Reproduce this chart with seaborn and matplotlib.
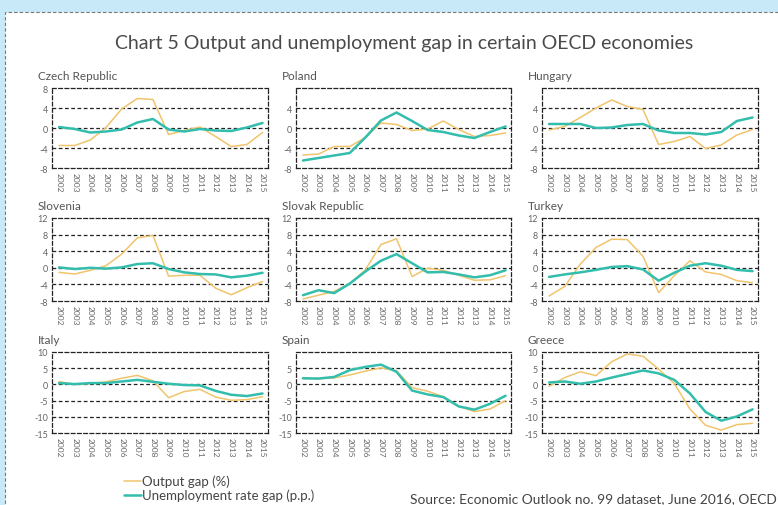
import matplotlib
matplotlib.use("Agg")
import matplotlib.pyplot as plt
import seaborn as sns
import pandas as pd
from matplotlib.patches import Rectangle

years = list(range(2002, 2016))
countries = ["Czech Republic", "Poland", "Hungary", "Slovenia", "Slovak Republic",
             "Turkey", "Italy", "Spain", "Greece"]

czech_output = [-3.5, -3.5, -2.4, 0.1, 3.8, 5.9, 5.7, -1.3, -0.5, 0.2, -1.7, -3.7, -3.3, -0.9]
czech_unemp = [0.2, -0.2, -0.9, -0.7, -0.3, 1.1, 1.8, -0.3, -0.7, -0.2, -0.5, -0.6, 0.1, 1.0]
poland_output = [-5.4, -5.2, -3.7, -3.7, -1.9, 1.0, 0.7, -0.5, -0.2, 1.4, -0.3, -1.7, -1.5, -1.0]
poland_unemp = [-6.5, -6.0, -5.5, -5.0, -1.9, 1.5, 3.1, 1.4, -0.4, -0.8, -1.5, -2.0, -0.8, 0.3]
hungary_output = [-0.4, 0.3, 2.1, 4.0, 5.6, 4.3, 3.7, -3.3, -2.7, -1.7, -4.1, -3.4, -1.4, -0.3]
hungary_unemp = [0.8, 0.8, 0.8, 0.0, 0.1, 0.6, 0.8, -0.5, -1.0, -1.0, -1.3, -0.8, 1.4, 2.1]
slovenia_output = [-1.1, -1.5, -0.6, 0.5, 3.3, 7.2, 7.8, -2.0, -1.8, -1.8, -4.9, -6.5, -4.8, -3.3]
slovenia_unemp = [0.1, -0.3, 0.0, -0.2, 0.1, 0.9, 1.1, -0.3, -1.1, -1.5, -1.6, -2.3, -1.9, -1.2]
slovak_output = [-7.5, -6.6, -5.7, -3.8, -0.5, 5.6, 7.0, -2.1, -0.1, -0.6, -1.8, -3.0, -2.9, -1.9]
slovak_unemp = [-6.6, -5.4, -6.1, -3.8, -0.9, 1.7, 3.3, 1.1, -1.1, -1.0, -1.6, -2.3, -1.8, -0.6]
turkey_output = [-6.8, -4.5, 0.9, 4.9, 6.9, 6.8, 2.8, -6.0, -1.9, 1.7, -1.0, -1.6, -3.1, -3.6]
turkey_unemp = [-2.2, -1.6, -1.1, -0.5, 0.2, 0.4, -0.4, -3.1, -1.2, 0.5, 1.1, 0.5, -0.5, -0.8]
italy_output = [0.9, 0.0, 0.3, 0.8, 1.9, 2.8, 1.1, -4.1, -2.2, -1.5, -3.9, -4.9, -4.7, -3.8]
italy_unemp = [0.4, 0.1, 0.4, 0.4, 0.9, 1.4, 0.8, 0.2, -0.2, -0.3, -2.0, -3.2, -3.6, -2.8]
spain_output = [1.8, 1.8, 2.0, 2.9, 4.1, 5.1, 4.2, -1.0, -2.1, -3.8, -6.7, -8.4, -7.6, -5.0]
spain_unemp = [1.9, 1.8, 2.3, 4.4, 5.4, 6.1, 3.9, -1.9, -3.1, -3.9, -6.8, -7.8, -6.0, -3.5]
greece_output = [-0.6, 2.1, 3.9, 2.7, 7.0, 9.4, 8.7, 4.7, 0.3, -7.6, -12.6, -14.1, -12.4, -12.0]
greece_unemp = [0.6, 0.9, 0.2, 0.9, 2.1, 3.2, 4.3, 3.4, 1.4, -2.8, -8.5, -11.2, -9.9, -7.7]

output_series = [czech_output, poland_output, hungary_output, slovenia_output, slovak_output,
                 turkey_output, italy_output, spain_output, greece_output]
unemp_series = [czech_unemp, poland_unemp, hungary_unemp, slovenia_unemp, slovak_unemp,
                turkey_unemp, italy_unemp, spain_unemp, greece_unemp]

row_ticks = [[-8, -4, 0, 4, 8], [-8, -4, 0, 4, 8, 12], [-15, -10, -5, 0, 5, 10]]
label_top = [True, False, False, True, True, True, True, False, True]

series_names = ["Output gap (%)", "Unemployment rate gap (p.p.)"]
title = "Chart 5 Output and unemployment gap in certain OECD economies"
source = "Source: Economic Outlook no. 99 dataset, June 2016, OECD"

ORANGE = "#F1C46C"
TEAL = "#33BDAC"
GREY = "#666666"

sns.set_theme(style="white")
plt.rcParams["font.family"] = ["Lato", "DejaVu Sans"]

W, H = 778, 506
fig = plt.figure(figsize=(W / 100, H / 100), dpi=100)

# page background
fig.patches.append(Rectangle((0, 0), 1, 1, transform=fig.transFigure, color="#C8E9F8", zorder=-10))
fig.patches.append(Rectangle((5 / W, -0.1), 1.2, 1 - 13 / H + 0.1, transform=fig.transFigure,
                             facecolor="white", edgecolor="#777777", linestyle=(0, (3, 2)),
                             linewidth=0.8, zorder=-9))

fig.text(404 / W, 1 - 43 / H, title, ha="center", va="center", fontsize=14,
         color="#4a4a4a")

col_x = [(52, 268), (296, 511), (542, 758)]
row_y = [(89, 169), (219, 302), (353, 434)]

for i, country in enumerate(countries):
    r, c = divmod(i, 3)
    x0, x1 = col_x[c]
    y0, y1 = row_y[r]
    ax = fig.add_axes([x0 / W, 1 - y1 / H, (x1 - x0) / W, (y1 - y0) / H])
    df = pd.DataFrame({
        "year": list(range(len(years))) * 2,
        "value": output_series[i] + unemp_series[i],
        "series": [series_names[0]] * len(years) + [series_names[1]] * len(years),
    })
    sns.lineplot(data=df, x="year", y="value", hue="series", size="series",
                 palette=[ORANGE, TEAL], sizes=[1.1, 1.8], ax=ax, legend=False)
    ticks = row_ticks[r]
    ax.set_ylim(ticks[0], ticks[-1])
    ax.set_xlim(-0.45, 13.35)
    ax.set_yticks(ticks)
    labels = [str(t) for t in ticks]
    if not label_top[i]:
        labels[-1] = ""
    ax.set_yticklabels(labels)
    ax.set_xticks(range(len(years)))
    ax.set_xticklabels([str(y) for y in years], rotation=270)
    ax.tick_params(axis="both", length=0, labelsize=6.5, labelcolor=GREY)
    ax.tick_params(axis="x", pad=3, labelsize=6)
    ax.tick_params(axis="y", pad=3)
    ax.set_xlabel("")
    ax.set_ylabel("")
    ax.set_facecolor("none")
    for t in ticks[1:-1]:
        ax.axhline(t, color="#222222", linestyle=(0, (3, 2)), linewidth=0.9, zorder=0.5)
    for sp in ax.spines.values():
        sp.set_visible(True)
        sp.set_color("#222222")
        sp.set_linestyle((0, (3, 2)))
        sp.set_linewidth(0.9)
    fig.text((x0 - 14) / W, 1 - (y0 - 12) / H, country, ha="left", va="center",
             fontsize=8.5, color="#555555")

# legend
for k, (name, col, lw) in enumerate(zip(series_names, [ORANGE, TEAL], [1.1, 1.8])):
    yy = 1 - (482 + 14 * k) / H
    fig.add_artist(plt.Line2D([124 / W, 141 / W], [yy, yy], color=col, linewidth=lw,
                              transform=fig.transFigure))
    fig.text(142 / W, yy, name, ha="left", va="center", fontsize=9.5, color="#444444")

fig.text(410 / W, 1 - 499 / H, source, ha="left", va="center", fontsize=9.9,
         color="#444444")

fig.savefig("out.png", dpi=100)
